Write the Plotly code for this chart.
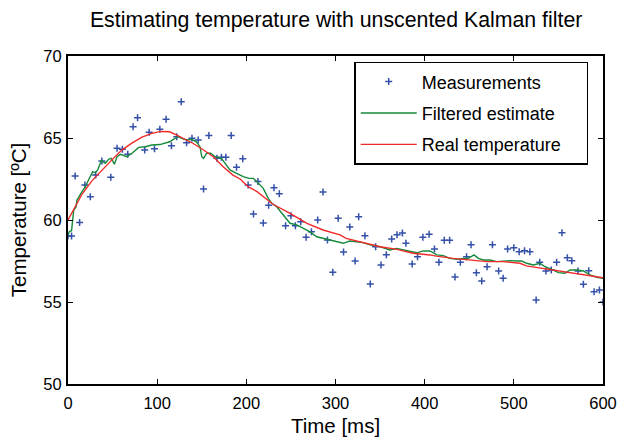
import plotly.graph_objects as go

# measurements (time in ms, temperature in deg C)
meas_t = [0, 4, 8, 13, 19, 25, 31, 38, 48, 55, 61, 67, 73, 78, 86, 91, 97, 103, 110, 116,
          122, 127, 133, 139, 146, 152, 158, 167, 172, 177, 183, 189, 196, 202, 208, 213, 219, 225, 231, 237,
          244, 250, 255, 261, 267, 273, 280, 286, 291, 297, 303, 309, 316, 322, 326, 333, 339, 345, 351, 357,
          363, 369, 375, 379, 386, 392, 398, 405, 411, 416, 422, 428, 434, 440, 447, 452, 458, 464, 470, 476,
          483, 488, 493, 500, 506, 512, 518, 525, 529, 536, 542, 548, 554, 560, 565, 572, 578, 584, 590, 596, 600]
meas_v = [59.02, 59.02, 62.68, 59.84, 62.13, 61.42, 62.74, 63.60, 62.60, 64.37, 64.31, 64.01, 65.69, 66.24, 64.27, 65.35, 64.35, 65.53, 66.14, 64.53,
          65.08, 67.21, 64.71, 64.98, 64.88, 61.89, 65.16, 63.76, 63.82, 63.82, 65.16, 63.21, 63.74, 62.13, 60.37, 62.34, 59.82, 60.90, 61.97, 61.60,
          59.65, 60.26, 59.65, 59.90, 58.95, 59.29, 60.00, 61.71, 58.78, 56.81, 60.10, 58.05, 59.57, 57.50, 60.20, 59.04, 56.10, 58.37, 57.26, 57.88,
          58.84, 59.10, 59.21, 58.58, 57.32, 57.76, 58.95, 59.13, 58.23, 57.42, 58.76, 58.76, 56.52, 57.42, 57.76, 58.49, 56.79, 56.28, 57.15, 58.49,
          56.89, 56.45, 58.23, 58.31, 58.07, 58.13, 58.07, 55.12, 57.42, 56.89, 56.95, 57.42, 59.23, 57.70, 57.52, 56.89, 56.08, 56.91, 55.63, 55.73, 55.00]

# filtered estimate (UKF output)
filt_t = [0, 1.5, 4, 6.4, 9, 10, 15.7, 19.5, 23, 27.7, 30.6, 33.3, 37.4, 41.8, 45.6, 48.6, 52, 55, 58.7, 66,
          71.8, 79.3, 86.7, 94, 103, 114, 120, 123.7, 127.5, 133, 138.7, 144, 148, 150, 152, 155.5, 160, 165, 172, 181.7,
          189, 196.6, 203, 207.8, 211.6, 215, 219, 224.6, 228.4, 234, 241.4, 249, 256.5, 263.9, 271, 279, 286, 293.8, 301, 308.7,
          316, 323.8, 331, 338.7, 346, 353.6, 361, 368.6, 376, 383.5, 391, 398.5, 406, 413.5, 421, 428.4, 436, 443.4, 449, 455.3,
          460.3, 465.8, 473.3, 480.8, 488, 495.7, 503.2, 508.8, 514.4, 521.9, 529.3, 535, 542.5, 550, 557.4, 563, 570.5, 578, 585.4, 593, 600]
filt_v = [59.08, 59.3, 59.35, 60.6, 60.8, 61.2, 61.73, 62.03, 62.44, 62.95, 62.88, 63.05, 63.62, 63.46, 63.70, 63.76, 63.40, 63.86, 64.0, 63.86,
          64.07, 64.43, 64.47, 64.57, 64.6, 64.77, 64.98, 65.08, 64.98, 64.88, 64.92, 64.77, 64.47, 63.86, 63.76, 64.07, 64.07, 63.86, 63.76, 63.05,
          62.85, 62.64, 62.54, 62.54, 62.34, 62.13, 61.93, 61.32, 61.02, 60.81, 60.30, 59.80, 59.70, 59.49, 59.29, 58.98, 58.88, 58.78, 58.68, 58.58,
          58.72, 58.68, 58.62, 58.48, 58.42, 58.31, 58.17, 58.27, 58.17, 58.07, 58.0, 58.12, 58.11, 57.87, 57.83, 57.66, 57.60, 57.66, 57.66, 57.87,
          57.66, 57.56, 57.56, 57.46, 57.50, 57.52, 57.50, 57.50, 57.36, 57.26, 57.36, 57.15, 56.99, 56.79, 56.75, 56.95, 56.95, 56.89, 56.65, 56.51, 56.45]

# real temperature
real_t = [0, 8, 16, 27, 38, 49, 60, 72, 83, 94, 104, 114, 122, 129, 140, 152, 163, 174, 185, 193,
          202, 212, 230, 249, 268, 286, 305, 312, 331, 350, 369, 387, 406, 413, 432, 451, 470, 488, 507, 514,
          533, 552, 570, 589, 600]
real_v = [60.0, 60.8, 61.6, 62.4, 63.05, 63.65, 64.25, 64.7, 65.05, 65.28, 65.4, 65.38, 65.18, 64.98, 64.68, 64.27, 63.86, 63.25, 62.74, 62.5,
          62.03, 61.73, 60.96, 60.41, 59.8, 59.39, 59.09, 58.88, 58.62, 58.37, 58.21, 57.97, 57.87, 57.8, 57.66, 57.56, 57.46, 57.46, 57.36, 57.2,
          57.05, 56.89, 56.75, 56.59, 56.48]

font = "Liberation Sans, Arial, sans-serif"
pad = '\u00a0' * 4  # a bit of room on the right of the legend box

fig = go.Figure()
fig.add_trace(go.Scatter(x=meas_t, y=meas_v, mode='markers', name='Measurements',
                         legendgroup='a',
                         marker=dict(symbol='cross-thin', size=5, color='#3450a8',
                                     line=dict(width=1.5, color='#3450a8'))))
fig.add_trace(go.Scatter(x=filt_t, y=filt_v, mode='lines', name='Filtered estimate',
                         legendgroup='b', line=dict(color='#158a3a', width=1.4)))
fig.add_trace(go.Scatter(x=real_t, y=real_v, mode='lines', name='Real temperature' + pad,
                         legendgroup='c', line=dict(color='#f02a2a', width=1.4)))

axis = dict(showline=True, linecolor='black', linewidth=2, mirror='ticks',
            ticks='inside', ticklen=5, tickwidth=1, tickcolor='black',
            showgrid=False, zeroline=False, automargin=False,
            tickfont=dict(size=16.5, color='black'))

fig.update_layout(
    width=619, height=437,
    margin=dict(l=68, r=16, t=56, b=53),
    paper_bgcolor='white', plot_bgcolor='white',
    font=dict(family=font, color='black'),
    title=dict(text='Estimating temperature with unscented Kalman filter',
               x=0.543, xanchor='center', y=0.955, yanchor='middle',
               font=dict(size=21.3, color='black')),
    xaxis=dict(range=[0, 600], dtick=100, ticklabelstandoff=3,
               title=dict(text='Time [ms]', font=dict(size=20.5), standoff=11), **axis),
    yaxis=dict(range=[50, 70], dtick=5, ticklabelstandoff=1,
               title=dict(text='Temperature [ºC]', font=dict(size=20.5), standoff=11), **axis),
    showlegend=True,
    legend=dict(x=0.535, y=0.982, xanchor='left', yanchor='top',
                bgcolor='white', bordercolor='black', borderwidth=1.5,
                font=dict(size=18), itemwidth=56, tracegroupgap=5,
                traceorder='grouped'),
)

# page has a default 8px body margin; drop it so the figure sits at the corner
fig.write_html("out.html", config={'displayModeBar': False},
               post_script="document.body.style.margin='0';document.body.style.overflow='hidden';")
